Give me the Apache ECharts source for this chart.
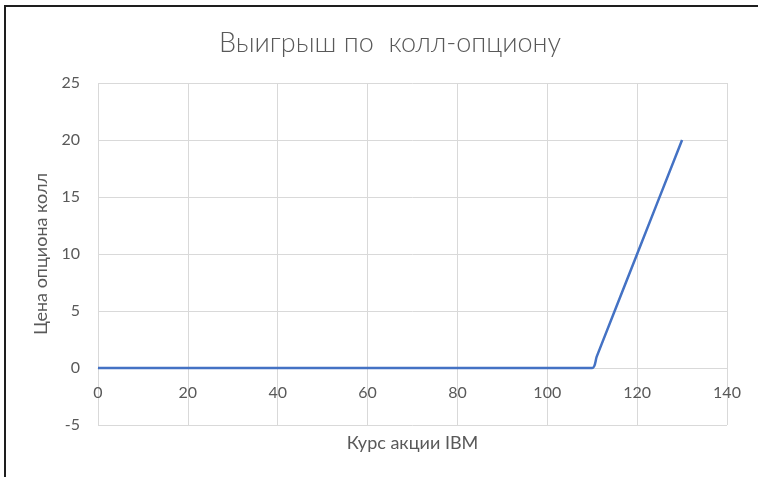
<!DOCTYPE html>
<html>
<head>
<meta charset="utf-8">
<script src="https://cdn.jsdelivr.net/npm/echarts@6/dist/echarts.min.js"></script>
<style>
  html, body { margin: 0; padding: 0; background: #ffffff; }
  #chart { width: 758px; height: 477px; }
  #frame { position: absolute; left: 4px; top: 5px; width: 754px; height: 472px;
           border-left: 2px solid #1e1e1e; border-top: 2px solid #1e1e1e; box-sizing: border-box; pointer-events: none; }
</style>
</head>
<body>
<div id="chart"></div>
<div id="frame"></div>
<script>
const titleText = 'Выигрыш по  колл-опциону';
const xAxisTitle = 'Курс акции IBM';
const yAxisTitle = 'Цена опциона колл';
const stockPrice = [0, 10, 20, 30, 40, 50, 60, 70, 80, 90, 100, 110, 111, 120, 130];
const callPayoff = [0, 0, 0, 0, 0, 0, 0, 0, 0, 0, 0, 0, 1, 10, 20];

const fontFam = 'Lato, "Open Sans", sans-serif';
const txt = '#595959';
const grid = '#d9d9d9';
const yMin = -5, yMax = 25;

const chart = echarts.init(document.getElementById('chart'), null, { renderer: 'canvas' });
chart.setOption({
  animation: false,
  backgroundColor: '#ffffff',
  title: {
    text: titleText,
    left: 214,
    top: 25,
    textStyle: { fontFamily: fontFam, fontSize: 27, fontWeight: 300, color: txt }
  },
  grid: { left: 98, right: 31, top: 83, bottom: 52, outerBoundsMode: 'none', containLabel: false },
  xAxis: {
    type: 'value',
    position: 'bottom',
    min: 0, max: 140, interval: 20,
    name: xAxisTitle,
    nameLocation: 'middle',
    nameGap: 66,
    nameTextStyle: { fontFamily: fontFam, fontSize: 18, color: txt },
    axisLine: { show: true, onZero: false, lineStyle: { color: grid, width: 1 } },
    axisTick: { show: false },
    axisLabel: { fontFamily: fontFam, fontSize: 16, color: txt, margin: 17 },
    splitLine: { show: true, lineStyle: { color: grid, width: 1 } }
  },
  yAxis: {
    type: 'value',
    min: yMin, max: yMax, interval: 5,
    name: yAxisTitle,
    nameLocation: 'middle',
    nameGap: 44,
    nameRotate: 90,
    nameTextStyle: { fontFamily: fontFam, fontSize: 18, color: txt },
    axisLine: { show: false },
    axisTick: { show: false },
    axisLabel: { fontFamily: fontFam, fontSize: 16, color: txt, margin: 18 },
    splitLine: { show: true, lineStyle: { color: grid, width: 1 } }
  },
  series: [{
    type: 'line',
    data: stockPrice.map((x, i) => [x, callPayoff[i]]),
    smooth: 0.3,
    showSymbol: false,
    symbol: 'none',
    lineStyle: { color: '#4472C4', width: 2.5 },
    itemStyle: { color: '#4472C4' }
  }]
});
// Place the horizontal axis (line + labels) where y = 0, as in the original chart
const yZeroPx = chart.convertToPixel({ yAxisIndex: 0 }, 0);
const yBottomPx = chart.convertToPixel({ yAxisIndex: 0 }, yMin);
chart.setOption({ xAxis: { offset: yZeroPx - yBottomPx } });
</script>
</body>
</html>
